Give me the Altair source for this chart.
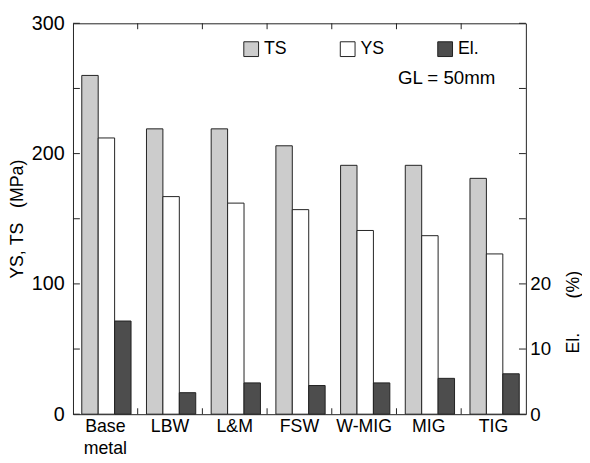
import altair as alt
import pandas as pd

categories = ["Base metal", "LBW", "L&M", "FSW", "W-MIG", "MIG", "TIG"]
series = ["TS", "YS", "El."]
ts_values = [260, 219, 219, 206, 191, 191, 181]
ys_values = [212, 167, 162, 157, 141, 137, 123]
el_values = [14.3, 3.3, 4.8, 4.4, 4.8, 5.5, 6.2]
left_tick_values = [0, 50, 100, 150, 200, 250, 300]
left_label_values = [0, 100, 200, 300]
right_tick_values = [0, 10, 20, 30, 40, 50, 60]
right_label_values = [0, 10, 20]

FONT = "Liberation Sans"
W, H = 460, 397

mpa_df = pd.DataFrame({
    "cat": categories * 2,
    "series": ["TS"] * len(categories) + ["YS"] * len(categories),
    "value": ts_values + ys_values,
})
el_df = pd.DataFrame({"cat": categories, "series": ["El."] * len(categories), "value": el_values})

x_scale = alt.Scale(domain=categories, paddingInner=0, paddingOuter=0)
xo_scale = alt.Scale(domain=series, paddingInner=0, paddingOuter=0.47, align=0.57)
color_scale = alt.Scale(domain=series, range=["#cccccc", "#ffffff", "#4d4d4d"])

x_axis = alt.Axis(title=None, ticks=False, domain=False, labelAngle=0,
                  labelFontSize=18, labelPadding=4, labelLineHeight=22,
                  labelExpr="split(datum.label, ' ')", labelColor="black")
X = alt.X("cat:N", scale=x_scale, axis=x_axis, sort=categories)

legend = alt.Legend(orient="none", legendX=172, legendY=17, direction="horizontal",
                    title=None, symbolType="square", symbolSize=225,
                    symbolStrokeColor="#222", symbolStrokeWidth=1,
                    labelFontSize=18, labelColor="black", labelOffset=4,
                    columnPadding=51, columns=3)

bars_mpa = alt.Chart(mpa_df).mark_bar(stroke="#222", strokeWidth=1).encode(
    x=X,
    xOffset=alt.XOffset("series:N", scale=xo_scale, sort=series),
    y=alt.Y("value:Q", scale=alt.Scale(domain=[0, 300]),
            axis=alt.Axis(values=left_label_values, title="YS,\u00a0TS\u00a0\u00a0\u00a0(MPa)",
                          ticks=False, domain=False, grid=False,
                          labelFontSize=20, labelPadding=9, labelColor="black",
                          titleFontSize=18, titleFontWeight="normal", titlePadding=5,
                          titleColor="black")),
    color=alt.Color("series:N", scale=color_scale, legend=legend, sort=series),
)

bars_el = alt.Chart(el_df).mark_bar(stroke="#222", strokeWidth=1).encode(
    x=X,
    xOffset=alt.XOffset("series:N", scale=xo_scale, sort=series),
    y=alt.Y("value:Q", scale=alt.Scale(domain=[0, 60]),
            axis=alt.Axis(orient="right", values=right_label_values,
                          title="El.\u00a0\u00a0\u00a0\u00a0\u00a0\u00a0\u00a0(%)",
                          titleAngle=270, titleX=48, titleY=293, titleBaseline="middle",
                          titleAlign="center",
                          ticks=False, domain=False, grid=False,
                          labelFontSize=19, labelPadding=4, labelColor="black",
                          titleFontSize=18, titleFontWeight="normal",
                          titleColor="black")),
    color=alt.Color("series:N", scale=color_scale, legend=legend, sort=series),
)

left_ticks = alt.Chart(pd.DataFrame({"v": left_tick_values})).mark_rule(color="#222").encode(
    y=alt.Y("v:Q", scale=alt.Scale(domain=[0, 300]), axis=None),
    x=alt.value(0), x2=alt.value(7),
)
right_ticks = alt.Chart(pd.DataFrame({"v": right_tick_values})).mark_rule(color="#222").encode(
    y=alt.Y("v:Q", scale=alt.Scale(domain=[0, 60]), axis=None),
    x=alt.value(W - 7), x2=alt.value(W),
)
bounds_df = pd.DataFrame({"cat": categories[1:]})
top_ticks = alt.Chart(bounds_df).mark_rule(color="#222").encode(
    x=alt.X("cat:N", scale=x_scale, axis=x_axis, sort=categories, bandPosition=0),
    y=alt.value(0), y2=alt.value(6),
)
bottom_ticks = alt.Chart(bounds_df).mark_rule(color="#222").encode(
    x=alt.X("cat:N", scale=x_scale, axis=x_axis, sort=categories, bandPosition=0),
    y=alt.value(H - 6), y2=alt.value(H),
)

note = alt.Chart(pd.DataFrame({"t": ["GL = 50mm"]})).mark_text(
    align="left", baseline="middle", fontSize=19, font=FONT, color="black"
).encode(text="t:N", x=alt.value(330), y=alt.value(56))

chart = alt.layer(
    bars_mpa, bars_el, left_ticks, right_ticks, top_ticks, bottom_ticks, note
).resolve_scale(y="independent").properties(
    width=W, height=H, padding={"left": 0, "top": 2, "right": 0, "bottom": 0}
).configure_view(stroke="#222", strokeWidth=1).configure_axis(
    labelFont=FONT, titleFont=FONT
).configure_legend(labelFont=FONT).configure_text(font=FONT)

chart.save("out.html", embed_options={"renderer": "svg", "actions": False})
